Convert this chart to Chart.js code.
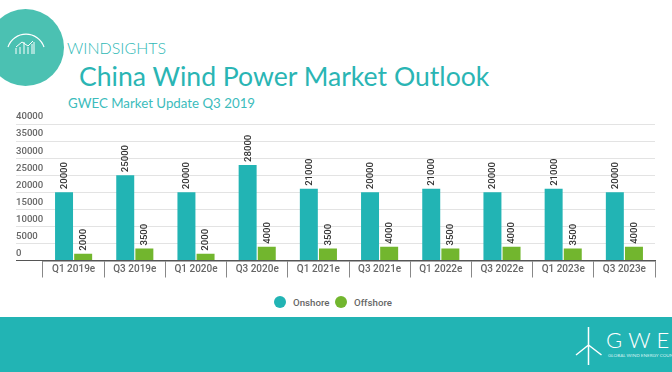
<!DOCTYPE html>
<html>
<head>
<meta charset="utf-8">
<script src="https://cdn.jsdelivr.net/npm/chart.js@4"></script>
<style>
  html, body { margin: 0; padding: 0; background: #fff; overflow: hidden; }
  #page { position: relative; width: 672px; height: 372px; overflow: hidden; font-family: Lato, sans-serif; }
  #chartResult { position: absolute; left: 0; top: 0; }
  .txt { position: absolute; white-space: nowrap; }
  #circle { position: absolute; left: -13px; top: 9px; width: 77px; height: 77px; border-radius: 50%; background: #4bc1b2; }
  #footer { position: absolute; left: 0; top: 317px; width: 672px; height: 55px; background: #22b4b4; }
  .dot { position: absolute; top: 296px; width: 12px; height: 12px; border-radius: 50%; }
  .leg { position: absolute; top: 296px; line-height: 13px; font: 500 9.7px/13px Roboto; color: #666; }
  svg { position: absolute; }
</style>
</head>
<body>
<div id="page">
  <div id="circle"></div>
  <svg style="left:0;top:20px" width="70" height="50" fill="none" stroke="#fff" stroke-width="1">
    <path d="M8 27 A19 19 0 0 1 44 27" stroke-width="1.2"/>
    <path d="M16 34V28M20 34V27M24 34V22M28 34V27M32 34V24M34 34V22"/>
    <path d="M16 27L22 22L28 26L33 21" />
  </svg>
  <div class="txt" style="left:67px;top:38px;font-size:16px;font-weight:300;color:#30b9b6">WINDSIGHTS</div>
  <div class="txt" style="left:79px;top:60px;font-size:26.6px;color:#2ab5b4">China Wind Power Market Outlook</div>
  <div class="txt" style="left:68px;top:95px;font-size:13.3px;color:#3cbcbc">GWEC Market Update Q3 2019</div>
  <div id="footer">
    <svg style="left:0;top:0" width="672" height="55" fill="none" stroke="#fff" stroke-width="1.5">
      <path d="M588.5 10V48M588.5 28L576 38M588.5 28L601.5 38"/>
    </svg>
    <div class="txt" style="left:606px;top:9px;font-size:22px;font-weight:300;letter-spacing:6px;color:#fff">GWEC</div>
    <div class="txt" style="left:608px;top:35px;font-size:4.6px;color:#d5f2f2">GLOBAL WIND ENERGY COUNCIL</div>
  </div>
  <div id="legend"></div>
  <canvas id="chartResult" width="672" height="372"></canvas>
</div>
<script>
var categories = ['Q1 2019e','Q3 2019e','Q1 2020e','Q3 2020e','Q1 2021e','Q3 2021e','Q1 2022e','Q3 2022e','Q1 2023e','Q3 2023e'];
var onshore = [20000,25000,20000,28000,21000,20000,21000,20000,21000,20000];
var offshore = [2000,3500,2000,4000,3500,4000,3500,4000,3500,4000];

// rotated value labels above the bars
var barLabels = {
    id: 'barLabels',
    afterDatasetsDraw: function(chart) {
        var ctx = chart.ctx;
        chart.data.datasets.forEach(function(ds, i) {
            chart.getDatasetMeta(i).data.forEach(function(bar, j) {
                ctx.save();
                ctx.translate(bar.x + 0.5, bar.y - 3);
                ctx.rotate(-Math.PI / 2);
                ctx.font = '500 9.6px Roboto';
                ctx.fillStyle = '#333';
                ctx.textAlign = 'left';
                ctx.textBaseline = 'middle';
                ctx.fillText(ds.data[j], 0, 0);
                ctx.restore();
            });
        });
    }
};

var mainChart = new Chart(document.getElementById('chartResult'), {
    type: 'bar',
    plugins: [barLabels],
    data: {
        labels: categories,
        datasets: [{
            label: 'Onshore',
            data: onshore,
            backgroundColor: '#22b4b4',
            categoryPercentage: 0.625,
            barPercentage: 0.94
        }, {
            label: 'Offshore',
            data: offshore,
            backgroundColor: '#72b62e',
            categoryPercentage: 0.625,
            barPercentage: 0.94
        }]
    },
    options: {
        responsive: false,
        animation: false,
        layout: { padding: { left: 16, right: 17, top: 124, bottom: 94 } },
        plugins: {
            tooltip: { enabled: false },
            legend: { display: false }
        },
        scales: {
            x: {
                afterFit: function(scale) { scale.height = 17.5; },
                grid: { offset: true, drawOnChartArea: false, tickLength: 17, tickColor: '#888', tickWidth: 1 },
                border: { color: '#555', width: 1.5 },
                ticks: { color: '#666', padding: -14, maxRotation: 0, font: { family: 'Roboto', size: 10, weight: '500' } }
            },
            y: {
                min: 0,
                max: 40000,
                afterFit: function(scale) { scale.width = 27; },
                grid: {
                    tickLength: 27,
                    color: '#e3e3e3',
                    tickColor: function(c) { return c.tick.value === 0 ? '#555' : '#e3e3e3'; },
                    lineWidth: 1
                },
                border: { display: false },
                ticks: {
                    stepSize: 5000,
                    crossAlign: 'far',
                    padding: 0,
                    labelOffset: -7,
                    color: '#666',
                    font: { family: 'Roboto', size: 9.6, weight: '500' },
                    callback: function(v) { return String(v); }
                }
            }
        }
    }
});

// html legend, placed where the original has it
var legendX = [274, 335];
var legendHtml = '';
mainChart.data.datasets.forEach(function(ds, i) {
    legendHtml += '<div class="dot" style="left:' + legendX[i] + 'px;background:' + ds.backgroundColor + '"></div>';
    legendHtml += '<div class="leg" style="left:' + (legendX[i] + 19) + 'px">' + ds.label + '</div>';
});
document.getElementById('legend').innerHTML = legendHtml;
</script>
</body>
</html>
